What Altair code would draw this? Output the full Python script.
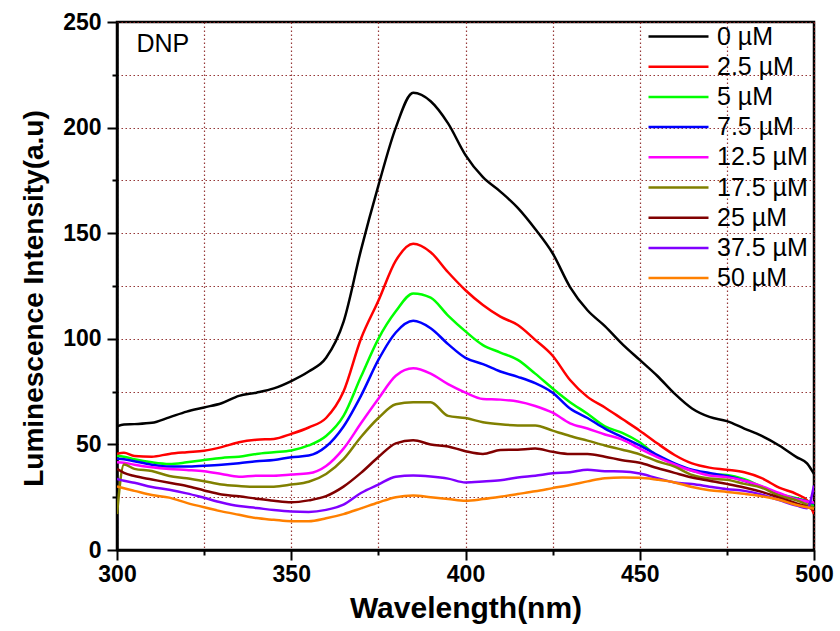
import altair as alt
import pandas as pd

wavelength = [300, 302, 305, 310, 315, 320, 325, 330, 335, 340, 345, 350, 355, 360, 365, 370,
              375, 380, 385, 390, 395, 400, 405, 410, 415, 420, 425, 430, 435, 440, 445, 450,
              455, 460, 465, 470, 475, 480, 485, 490, 495, 498, 500]

c_0 = [58.5, 59.4, 59.6, 60.2, 62.8, 65.5, 67.5, 69.5, 73, 74.5, 76.5, 80, 84.5, 91, 108, 142,
       172.5, 200, 216.5, 212.5, 202, 187, 176.5, 169.7, 162, 152, 140.5, 124.5, 113.5, 106, 97.5, 90,
       82.5, 74, 67, 63, 61, 57.5, 54, 49.5, 44, 41, 36]
c_2_5 = [45.5, 46, 44.5, 44.2, 45.5, 46.3, 47, 48.7, 51, 52.2, 52.6, 55, 58, 62.5, 75, 100,
         118, 137, 145, 141, 131.5, 123, 116, 110.5, 106.5, 99.5, 92, 80.5, 72.5, 67.5, 62, 56.5,
         50.5, 45, 41, 39, 38, 36.8, 34, 29.5, 26.5, 23.5, 17]
c_5 = [44.5, 44.2, 43, 41.5, 40.7, 41.5, 42.6, 43.6, 44.2, 45.5, 46.3, 47.1, 49.5, 54, 63.5, 82,
       100, 113, 121.5, 119.5, 111, 103.5, 97, 93.5, 90, 83.5, 76.5, 70, 64.5, 58.5, 55.5, 51,
       44.5, 40.5, 37.5, 36, 35.5, 33.5, 30, 26.5, 24.5, 23, 21]
c_7_5 = [43.2, 43, 42, 40.4, 39.5, 39.5, 39.9, 40.4, 41.1, 42, 42.6, 43.9, 44.7, 49, 58.5, 73,
         90, 103, 108.5, 105, 97.5, 91, 88, 84.5, 82, 79, 74.5, 67, 62.5, 57.5, 53.5, 49.5,
         45, 41, 38, 36.5, 35, 32.8, 29.8, 26.3, 24.2, 23, 22]
c_12_5 = [41.6, 41.3, 40.4, 39.2, 38.4, 37.9, 37.3, 36, 34.7, 35.2, 35.2, 35.7, 36.3, 39.8, 48, 60,
          71.6, 82.5, 86, 83.5, 78.5, 74.5, 71.5, 71.2, 70.3, 68.2, 65, 60, 57.5, 54.7, 52.3, 48,
          44, 40.5, 37.5, 35.3, 34.5, 32.8, 30.2, 27, 24, 23, 22.5]
c_17_5 = [17, 40.5, 38.4, 37.4, 35, 34, 32.6, 31, 30.3, 29.9, 30, 31, 32.3, 36, 43, 53.5,
          62.5, 69, 70, 70, 63.5, 62.5, 60.5, 59.5, 59, 59, 56.5, 54, 51.8, 49.5, 47.5, 45.3,
          42, 39.5, 35.5, 33.8, 33.3, 31.3, 29.5, 25.8, 23.5, 21.5, 20]
c_25 = [38.4, 36.5, 35, 33.4, 31.8, 30.3, 28.2, 26.3, 25.4, 24.3, 23.3, 22.6, 23.5, 25.5, 30, 36.5,
        44, 50.5, 52, 50, 49, 46.8, 45.5, 47.3, 47.5, 48, 46.5, 45.5, 45.5, 44.2, 42.5, 41.3,
        38.8, 36.5, 34.3, 32.8, 31.3, 29.6, 27.5, 24.8, 22, 20.5, 19]
c_37_5 = [33.7, 32.8, 31.8, 29.8, 28.5, 26.8, 24.7, 22.5, 20.8, 19.9, 18.9, 18.2, 18, 19, 21.5, 27,
          31, 34.7, 35.3, 34.8, 33.8, 32, 32.4, 33, 34.3, 35.2, 36.3, 36.8, 38, 37.3, 37.2, 36.2,
          34, 32, 31.2, 30, 28.8, 28, 26.2, 23.6, 21, 19.8, 30.5]
c_50 = [30.1, 29.2, 28, 26, 24.8, 22.3, 20.2, 18.3, 16.7, 15.1, 14.3, 13.6, 13.6, 15, 17, 19.7,
        22.5, 25, 25.8, 25, 24.2, 23.3, 24.1, 25.2, 26.5, 27.8, 29.3, 30.8, 32.5, 34, 34.3, 34.2,
        33.3, 32, 29.8, 28.3, 27.5, 26.6, 25.5, 23.8, 21.3, 20.2, 19.5]

series_labels = ["0 µM", "2.5 µM", "5 µM", "7.5 µM", "12.5 µM", "17.5 µM", "25 µM", "37.5 µM", "50 µM"]
series_values = [c_0, c_2_5, c_5, c_7_5, c_12_5, c_17_5, c_25, c_37_5, c_50]
series_colors = ["#000000", "#ff0000", "#00ff00", "#0000ff", "#ff00ff", "#808000", "#800000", "#8000ff", "#ff8000"]

x_ticks = [300, 325, 350, 375, 400, 425, 450, 475, 500]
y_ticks = [0, 25, 50, 75, 100, 125, 150, 175, 200, 225, 250]

annot_text = ["DNP"]
annot_x = [305.6]
annot_y = [236]

rows = []
for i, (lab, vals) in enumerate(zip(series_labels, series_values)):
    for w, v in zip(wavelength, vals):
        rows.append({"wl": w, "val": v, "conc": lab, "idx": i})
df = pd.DataFrame(rows)

FONT = "Liberation Sans"
major_tick = {"condition": {"test": "datum.value % 50 === 0", "value": 10}, "value": 5}

lines = alt.Chart(df).mark_line(strokeWidth=2.5, interpolate="monotone", clip=True).encode(
    x=alt.X("wl:Q",
            scale=alt.Scale(domain=[300, 500], nice=False, zero=False),
            axis=alt.Axis(values=x_ticks,
                          labelExpr="datum.value % 50 === 0 ? datum.label : ''",
                          tickSize=major_tick, labelPadding=3, labelFlush=False,
                          title="Wavelength(nm)", titleFontSize=30, titlePadding=7)),
    y=alt.Y("val:Q",
            scale=alt.Scale(domain=[0, 250], nice=False),
            axis=alt.Axis(values=y_ticks,
                          labelExpr="datum.value % 50 === 0 ? datum.label : ''",
                          tickSize=major_tick, labelPadding=6, labelFlush=False,
                          title="Luminescence Intensity(a.u)", titleFontSize=28,
                          titleX=-75, titleY=276, titleBaseline="alphabetic", titleAlign="center")),
    color=alt.Color("conc:N",
                    scale=alt.Scale(domain=series_labels, range=series_colors),
                    legend=alt.Legend(title=None, orient="none", legendX=574, legendY=2,
                                      symbolType="M-11,0L1,0", symbolSize=100, symbolStrokeWidth=2.5,
                                      labelFont=FONT, labelFontSize=25, labelOffset=1,
                                      rowPadding=4.2, padding=0, labelLimit=200)),
    order=alt.Order("idx:Q"),
)

annot_df = pd.DataFrame({"t": annot_text, "x": annot_x, "y": annot_y})
annot = alt.Chart(annot_df).mark_text(align="left", baseline="alphabetic", font=FONT,
                                      fontSize=25, color="black").encode(
    x="x:Q", y="y:Q", text="t:N")

chart = alt.layer(lines, annot).properties(
    width=697, height=528,
    autosize=alt.AutoSizeParams(type="none"),
    padding={"left": 117, "top": 22, "right": 26, "bottom": 81},
    background="white",
).configure_view(
    stroke="black", strokeWidth=2.5
).configure_axis(
    labelFont=FONT, labelFontSize=23, labelFontWeight="bold", labelColor="black",
    titleFont=FONT, titleFontWeight="bold", titleColor="black",
    domainColor="black", domainWidth=2.5,
    tickColor="black", tickWidth=2,
    grid=True, gridColor="#8b2222", gridDash=[1.5, 2.5], gridWidth=1.2, gridOpacity=0.9,
)

chart.save("out.html", embed_options={"renderer": "svg", "actions": False})
